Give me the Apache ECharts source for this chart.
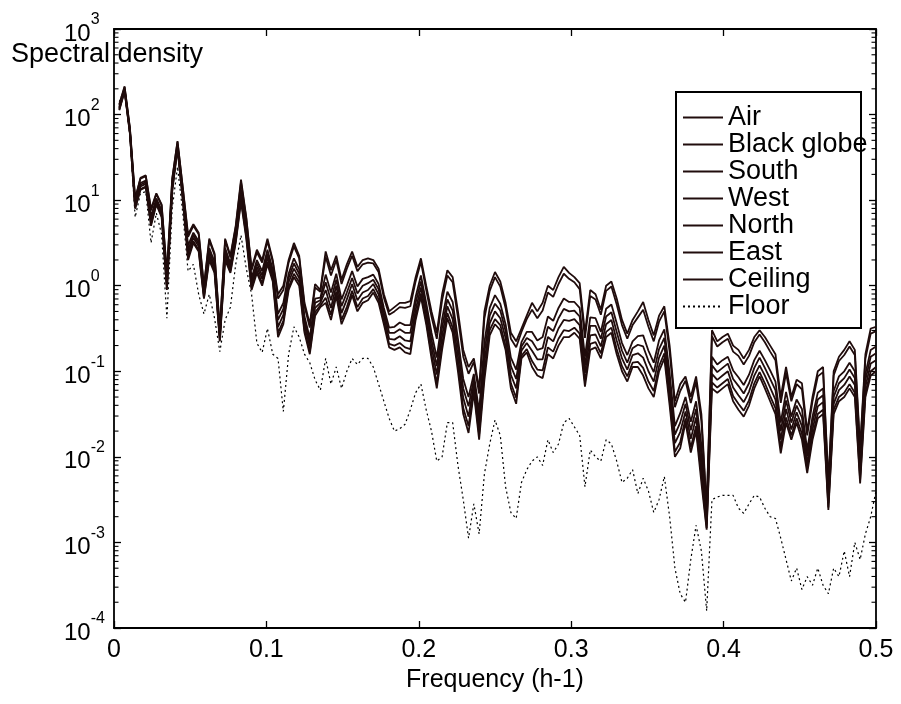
<!DOCTYPE html>
<html>
<head>
<meta charset="utf-8">
<script src="https://cdn.jsdelivr.net/npm/echarts@6/dist/echarts.min.js"></script>
<style>
  html, body { margin: 0; padding: 0; background: #fff; }
  #chart { width: 901px; height: 704px; }
</style>
</head>
<body>
<div id="chart"></div>
<script>
// Periodogram of an hourly temperature record: frequencies k / recordHours, k = 1..144.
// All series are stored as log10 of the spectral density.
const recordHours = 288;

const seriesNames = ['Air', 'Black globe', 'South', 'West', 'North', 'East', 'Ceiling', 'Floor'];

const air = [
  2.12, 2.33, 1.85, 1.02, 1.26, 1.29, 0.90, 1.08, 0.95, 0.15, 1.25, 1.69,
  1.15, 0.60, 0.72, 0.62, 0.00, 0.55, 0.38, -0.50, 0.55, 0.35, 0.70, 1.24,
  0.80, 0.20, 0.42, 0.30, 0.55, 0.30, -0.10, 0.00, 0.30, 0.50, 0.35, -0.20,
  -0.45, 0.02, -0.05, 0.40, 0.18, 0.35, 0.07, 0.25, 0.40, 0.22, 0.30, 0.32,
  0.30, 0.20, -0.10, -0.30, -0.25, -0.20, -0.20, -0.18, 0.10, 0.32, 0.00, -0.30,
  -0.55, -0.10, 0.18, 0.10, -0.30, -0.75, -0.95, -0.85, -1.20, -0.30, 0.00, 0.16,
  0.05, -0.20, -0.55, -0.65, -0.50, -0.35, -0.20, -0.30, -0.20, 0.00, -0.05, 0.10,
  0.22, 0.15, 0.10, 0.03, -0.55, -0.05, -0.10, -0.28, 0.00, 0.05, -0.15, -0.40,
  -0.56, -0.40, -0.30, -0.19, -0.40, -0.58, -0.35, -0.24, -0.70, -1.35, -1.15, -1.06,
  -1.30, -1.06, -1.50, -2.60, -0.52, -0.65, -0.60, -0.56, -0.70, -0.75, -0.85, -0.75,
  -0.60, -0.52, -0.60, -0.70, -0.80, -1.30, -0.95, -1.30, -1.10, -1.14, -1.70, -1.30,
  -1.00, -0.95, -2.30, -1.00, -0.83, -0.75, -0.65, -0.75, -1.90, -0.80, -0.50, -0.48
];
const blackGlobe = [
  2.11, 2.32, 1.84, 1.01, 1.25, 1.28, 0.88, 1.07, 0.94, 0.13, 1.24, 1.68,
  1.14, 0.57, 0.70, 0.60, -0.02, 0.53, 0.36, -0.52, 0.53, 0.33, 0.68, 1.21,
  0.78, 0.18, 0.39, 0.27, 0.52, 0.28, -0.15, -0.05, 0.27, 0.46, 0.32, -0.24,
  -0.49, -0.02, -0.07, 0.34, 0.12, 0.30, 0.02, 0.20, 0.35, 0.17, 0.25, 0.27,
  0.26, 0.16, -0.14, -0.34, -0.30, -0.25, -0.26, -0.24, 0.05, 0.28, -0.05, -0.36,
  -0.62, -0.17, 0.12, 0.04, -0.37, -0.83, -1.03, -0.89, -1.26, -0.38, -0.06, 0.10,
  -0.01, -0.26, -0.62, -0.72, -0.54, -0.39, -0.28, -0.38, -0.29, -0.08, -0.13, 0.02,
  0.14, 0.08, 0.04, -0.04, -0.61, -0.12, -0.16, -0.34, -0.06, -0.01, -0.22, -0.46,
  -0.62, -0.46, -0.37, -0.28, -0.48, -0.65, -0.42, -0.30, -0.77, -1.42, -1.23, -1.11,
  -1.37, -1.12, -1.58, -2.63, -0.59, -0.71, -0.66, -0.62, -0.77, -0.82, -0.92, -0.82,
  -0.66, -0.57, -0.66, -0.77, -0.87, -1.37, -1.02, -1.35, -1.15, -1.21, -1.75, -1.35,
  -1.06, -1.01, -2.33, -1.05, -0.88, -0.81, -0.71, -0.81, -1.94, -0.85, -0.56, -0.53
];
const south = [
  2.09, 2.30, 1.82, 0.97, 1.20, 1.23, 0.81, 1.02, 0.88, 0.06, 1.18, 1.65,
  1.08, 0.47, 0.62, 0.52, -0.07, 0.44, 0.28, -0.57, 0.44, 0.26, 0.61, 1.12,
  0.69, 0.09, 0.30, 0.17, 0.42, 0.19, -0.33, -0.20, 0.14, 0.32, 0.19, -0.36,
  -0.61, -0.15, -0.14, 0.13, -0.08, 0.14, -0.16, 0.00, 0.17, -0.01, 0.08, 0.10,
  0.13, 0.02, -0.26, -0.49, -0.48, -0.43, -0.46, -0.46, -0.13, 0.12, -0.20, -0.55,
  -0.84, -0.39, -0.07, -0.19, -0.62, -1.09, -1.30, -1.03, -1.47, -0.66, -0.26, -0.11,
  -0.21, -0.45, -0.84, -0.98, -0.66, -0.54, -0.54, -0.64, -0.60, -0.36, -0.41, -0.26,
  -0.15, -0.19, -0.19, -0.26, -0.83, -0.37, -0.38, -0.54, -0.27, -0.22, -0.44, -0.67,
  -0.81, -0.65, -0.59, -0.58, -0.76, -0.90, -0.64, -0.51, -1.02, -1.64, -1.49, -1.30,
  -1.59, -1.35, -1.86, -2.71, -0.83, -0.92, -0.87, -0.83, -0.99, -1.07, -1.16, -1.04,
  -0.87, -0.76, -0.87, -0.99, -1.12, -1.60, -1.24, -1.53, -1.33, -1.44, -1.92, -1.53,
  -1.25, -1.20, -2.44, -1.23, -1.06, -1.00, -0.90, -1.00, -2.08, -1.03, -0.75, -0.71
];
const west = [
  2.08, 2.29, 1.81, 0.95, 1.18, 1.21, 0.78, 1.00, 0.86, 0.03, 1.16, 1.64,
  1.06, 0.42, 0.59, 0.49, -0.09, 0.40, 0.24, -0.59, 0.40, 0.23, 0.58, 1.08,
  0.65, 0.05, 0.26, 0.12, 0.37, 0.15, -0.40, -0.27, 0.09, 0.26, 0.14, -0.41,
  -0.66, -0.20, -0.17, 0.04, -0.17, 0.07, -0.24, -0.08, 0.09, -0.09, 0.00, 0.03,
  0.07, -0.04, -0.31, -0.55, -0.55, -0.51, -0.55, -0.55, -0.20, 0.05, -0.27, -0.63,
  -0.94, -0.49, -0.16, -0.29, -0.72, -1.20, -1.41, -1.09, -1.56, -0.78, -0.35, -0.21,
  -0.29, -0.53, -0.94, -1.09, -0.71, -0.61, -0.65, -0.75, -0.73, -0.48, -0.53, -0.38,
  -0.27, -0.30, -0.29, -0.36, -0.93, -0.47, -0.47, -0.62, -0.36, -0.31, -0.54, -0.76,
  -0.90, -0.73, -0.69, -0.71, -0.88, -1.01, -0.74, -0.61, -1.12, -1.74, -1.60, -1.38,
  -1.69, -1.44, -1.98, -2.75, -0.93, -1.01, -0.96, -0.91, -1.09, -1.17, -1.26, -1.14,
  -0.96, -0.84, -0.96, -1.09, -1.22, -1.70, -1.34, -1.60, -1.40, -1.54, -1.99, -1.60,
  -1.33, -1.28, -2.49, -1.30, -1.14, -1.08, -0.98, -1.08, -2.15, -1.10, -0.83, -0.79
];
const north = [
  2.07, 2.29, 1.80, 0.93, 1.16, 1.19, 0.75, 0.98, 0.84, 0.00, 1.14, 1.62,
  1.04, 0.38, 0.56, 0.46, -0.11, 0.36, 0.21, -0.61, 0.36, 0.20, 0.55, 1.05,
  0.61, 0.01, 0.22, 0.08, 0.33, 0.11, -0.48, -0.34, 0.04, 0.20, 0.09, -0.46,
  -0.71, -0.26, -0.20, -0.05, -0.26, 0.00, -0.32, -0.16, 0.02, -0.17, -0.08, -0.05,
  0.02, -0.10, -0.36, -0.62, -0.63, -0.59, -0.64, -0.65, -0.28, -0.02, -0.34, -0.71,
  -1.04, -0.59, -0.24, -0.39, -0.83, -1.31, -1.53, -1.15, -1.65, -0.90, -0.44, -0.30,
  -0.38, -0.61, -1.04, -1.20, -0.76, -0.67, -0.76, -0.86, -0.86, -0.60, -0.65, -0.50,
  -0.40, -0.41, -0.39, -0.46, -1.02, -0.58, -0.57, -0.71, -0.45, -0.40, -0.64, -0.85,
  -0.98, -0.81, -0.79, -0.84, -1.00, -1.12, -0.84, -0.70, -1.23, -1.84, -1.71, -1.47,
  -1.79, -1.54, -2.10, -2.79, -1.03, -1.10, -1.05, -1.00, -1.19, -1.28, -1.36, -1.24,
  -1.05, -0.93, -1.05, -1.19, -1.33, -1.80, -1.44, -1.68, -1.48, -1.64, -2.07, -1.68,
  -1.41, -1.36, -2.54, -1.38, -1.22, -1.16, -1.06, -1.16, -2.21, -1.18, -0.91, -0.87
];
const east = [
  2.06, 2.28, 1.79, 0.91, 1.13, 1.16, 0.72, 0.96, 0.82, -0.03, 1.12, 1.61,
  1.02, 0.33, 0.52, 0.42, -0.14, 0.33, 0.17, -0.64, 0.33, 0.17, 0.52, 1.01,
  0.58, -0.03, 0.18, 0.03, 0.28, 0.08, -0.55, -0.41, -0.02, 0.14, 0.04, -0.52,
  -0.77, -0.31, -0.23, -0.14, -0.34, -0.07, -0.40, -0.25, -0.06, -0.25, -0.15, -0.12,
  -0.04, -0.16, -0.42, -0.68, -0.70, -0.67, -0.72, -0.74, -0.35, -0.09, -0.41, -0.80,
  -1.14, -0.69, -0.32, -0.49, -0.93, -1.43, -1.64, -1.21, -1.74, -1.02, -0.52, -0.39,
  -0.46, -0.70, -1.14, -1.31, -0.82, -0.74, -0.88, -0.98, -0.99, -0.72, -0.77, -0.62,
  -0.52, -0.53, -0.49, -0.56, -1.12, -0.68, -0.66, -0.79, -0.54, -0.49, -0.74, -0.94,
  -1.06, -0.90, -0.89, -0.96, -1.12, -1.23, -0.94, -0.79, -1.33, -1.94, -1.83, -1.55,
  -1.89, -1.64, -2.22, -2.83, -1.13, -1.19, -1.14, -1.09, -1.29, -1.38, -1.46, -1.34,
  -1.14, -1.01, -1.14, -1.29, -1.43, -1.89, -1.54, -1.75, -1.55, -1.73, -2.14, -1.75,
  -1.50, -1.45, -2.59, -1.45, -1.30, -1.25, -1.15, -1.25, -2.27, -1.25, -1.00, -0.95
];
const ceiling = [
  2.05, 2.27, 1.78, 0.90, 1.12, 1.15, 0.70, 0.95, 0.80, -0.05, 1.10, 1.60,
  1.00, 0.30, 0.50, 0.40, -0.15, 0.30, 0.15, -0.65, 0.30, 0.15, 0.50, 0.98,
  0.55, -0.05, 0.15, 0.00, 0.25, 0.05, -0.60, -0.45, -0.05, 0.10, 0.00, -0.55,
  -0.80, -0.35, -0.25, -0.20, -0.40, -0.12, -0.45, -0.30, -0.11, -0.30, -0.20, -0.17,
  -0.08, -0.20, -0.45, -0.72, -0.75, -0.72, -0.78, -0.80, -0.40, -0.13, -0.45, -0.85,
  -1.20, -0.75, -0.38, -0.55, -1.00, -1.50, -1.72, -1.25, -1.80, -1.10, -0.58, -0.45,
  -0.52, -0.75, -1.20, -1.38, -0.85, -0.78, -0.95, -1.05, -1.08, -0.80, -0.85, -0.70,
  -0.60, -0.60, -0.55, -0.62, -1.18, -0.75, -0.72, -0.85, -0.60, -0.55, -0.80, -1.00,
  -1.12, -0.95, -0.95, -1.05, -1.20, -1.30, -1.00, -0.85, -1.40, -2.00, -1.90, -1.60,
  -1.95, -1.70, -2.30, -2.85, -1.20, -1.25, -1.20, -1.15, -1.35, -1.45, -1.53, -1.40,
  -1.20, -1.06, -1.20, -1.35, -1.50, -1.96, -1.60, -1.80, -1.60, -1.80, -2.19, -1.80,
  -1.55, -1.50, -2.62, -1.50, -1.35, -1.30, -1.20, -1.30, -2.31, -1.30, -1.05, -1.00
];
const floor = [
  2.15, 2.30, 1.75, 0.80, 1.08, 1.10, 0.50, 0.85, 0.60, -0.38, 0.90, 1.39,
  0.85, 0.17, 0.25, -0.10, -0.33, -0.10, -0.38, -0.77, -0.40, -0.25, 0.25, 0.59,
  0.20, -0.10, -0.67, -0.78, -0.50, -0.80, -0.85, -1.47, -0.80, -0.48, -0.60, -0.80,
  -0.90, -1.10, -1.22, -0.85, -1.15, -0.95, -1.20, -1.00, -0.85, -0.92, -0.85, -0.85,
  -0.95, -1.15, -1.35, -1.55, -1.70, -1.67, -1.62, -1.45, -1.25, -1.15, -1.45, -1.70,
  -2.05, -2.00, -1.60, -1.60, -2.10, -2.50, -2.95, -2.55, -2.90, -2.20, -1.85, -1.57,
  -1.75, -2.35, -2.65, -2.72, -2.30, -2.15, -2.05, -2.00, -2.10, -1.80, -1.95, -1.85,
  -1.60, -1.55, -1.65, -1.75, -2.35, -1.92, -2.00, -2.05, -1.80, -1.85, -2.05, -2.30,
  -2.25, -2.15, -2.43, -2.25, -2.40, -2.65, -2.50, -2.23, -2.70, -3.30, -3.60, -3.70,
  -3.20, -2.80, -3.10, -3.80, -2.50, -2.47, -2.45, -2.45, -2.45, -2.60, -2.66, -2.55,
  -2.45, -2.47, -2.60, -2.70, -2.72, -2.95, -3.20, -3.45, -3.30, -3.55, -3.40, -3.50,
  -3.30, -3.50, -3.60, -3.30, -3.40, -3.10, -3.40, -3.00, -3.20, -2.90, -2.70, -2.40
];

// Decade exponents of the y axis and the mantissas that get minor ticks.
const decadeExponents = [-4, -3, -2, -1, 0, 1, 2, 3];
const minorMantissas = [2, 3, 4, 5, 6, 7, 8, 9];

const FONT = '"Liberation Sans", Arial, Helvetica, sans-serif';
const INK = '#000';
const LINE = '#200c0c';

const allSeries = [air, blackGlobe, south, west, north, east, ceiling, floor];
const toPoints = arr => arr.map((v, i) => [(i + 1) / recordHours, v]);

const minorTickValues = [];
decadeExponents.slice(0, -1).forEach(e => {
  minorMantissas.forEach(m => minorTickValues.push([0, e + Math.log10(m)]));
});

const chart = echarts.init(document.getElementById('chart'), null, { renderer: 'canvas' });

// Shared look of the four frame axes: solid border, inward ticks.
const frameAxis = () => ({
  axisLine: { show: true, onZero: false, lineStyle: { color: INK, width: 1.8 } },
  axisTick: { show: true, inside: true, length: 7, lineStyle: { color: INK, width: 1.3 } },
  splitLine: { show: false }
});

const lineSeries = seriesNames.map((name, idx) => ({
  name,
  type: 'line',
  data: toPoints(allSeries[idx]),
  showSymbol: false,
  symbol: 'none',
  smooth: false,
  z: idx === 7 ? 2 : 3,
  lineStyle: idx === 7
    ? { color: INK, width: 1.2, type: [2, 3] }
    : { color: LINE, width: 1.8 },
  itemStyle: { color: idx === 7 ? INK : LINE },
  emphasis: { disabled: true }
}));

chart.setOption({
  animation: false,
  backgroundColor: '#fff',
  textStyle: { fontFamily: FONT },
  grid: { left: 114, right: 25, top: 29, bottom: 76, containLabel: false },
  xAxis: [
    Object.assign({
      type: 'value', position: 'bottom', min: 0, max: 0.5, interval: 0.1,
      name: 'Frequency (h-1)', nameLocation: 'middle', nameGap: 27,
      nameTextStyle: { fontSize: 25, color: INK, fontFamily: FONT },
      axisLabel: { fontSize: 25, color: INK, margin: 10, fontFamily: FONT }
    }, frameAxis()),
    Object.assign({
      type: 'value', position: 'top', min: 0, max: 0.5, interval: 0.1,
      axisLabel: { show: false }
    }, frameAxis())
  ],
  yAxis: [
    Object.assign({
      type: 'value', position: 'left', min: -4, max: 3, interval: 1,
      axisLabel: {
        show: true, align: 'left', margin: 50, color: INK,
        formatter: v => '{b|10}{e|' + v + '}',
        rich: {
          b: { fontSize: 24, lineHeight: 34, verticalAlign: 'bottom', color: INK, fontFamily: FONT },
          e: { fontSize: 16, lineHeight: 16, verticalAlign: 'top', color: INK, fontFamily: FONT }
        }
      }
    }, frameAxis()),
    Object.assign({
      type: 'value', position: 'right', min: -4, max: 3, interval: 1,
      axisLabel: { show: false }
    }, frameAxis())
  ],
  legend: {
    data: seriesNames,
    orient: 'vertical',
    left: 682, top: 104,
    padding: 0,
    itemWidth: 40, itemHeight: 2, itemGap: 0,
    selectedMode: false,
    itemStyle: { opacity: 0, borderWidth: 0 },
    textStyle: { fontSize: 27, lineHeight: 26.7, color: INK, fontFamily: FONT },
    z: 6
  },
  graphic: [
    {
      type: 'rect', left: 675, top: 91, z: 5,
      shape: { width: 185, height: 236 },
      style: { fill: '#fff', stroke: INK, lineWidth: 2 }
    },
    {
      type: 'text', left: 11, top: 41, z: 7,
      style: { text: 'Spectral density', fontSize: 27, fontFamily: FONT, fill: INK }
    }
  ],
  series: lineSeries.concat([{
    type: 'custom',
    name: 'minor-ticks',
    silent: true,
    z: 4,
    data: minorTickValues,
    encode: { x: 0, y: 1 },
    renderItem: (params, api) => {
      const p = api.coord([0, api.value(1)]);
      const cs = params.coordSys;
      const style = { stroke: INK, lineWidth: 1.1 };
      return {
        type: 'group',
        children: [
          { type: 'line', shape: { x1: cs.x, y1: p[1], x2: cs.x + 4.5, y2: p[1] }, style },
          { type: 'line', shape: { x1: cs.x + cs.width - 4.5, y1: p[1], x2: cs.x + cs.width, y2: p[1] }, style }
        ]
      };
    }
  }])
});
</script>
</body>
</html>
